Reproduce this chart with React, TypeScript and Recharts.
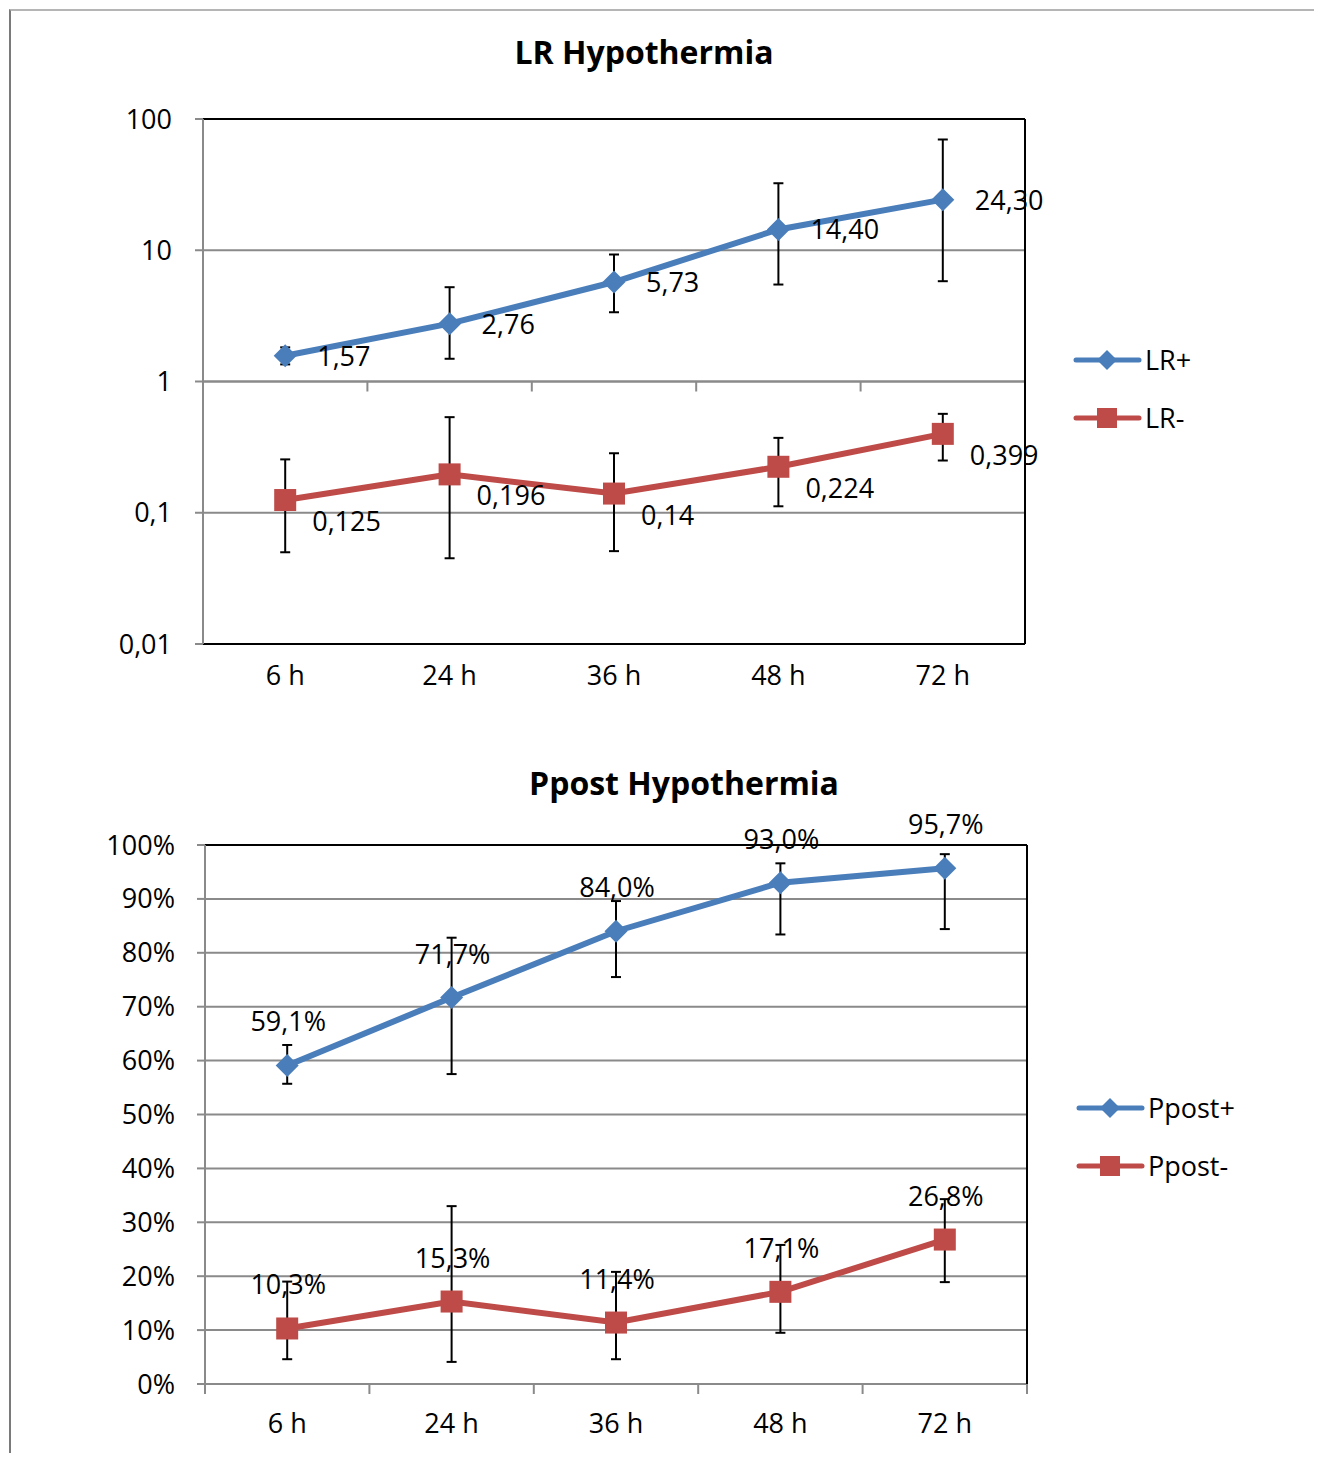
import React from 'react';
import { LineChart, Line, XAxis, YAxis, CartesianGrid, ErrorBar, ReferenceLine, Legend } from 'recharts';

// ---------- data ----------
const categories = ['6 h', '24 h', '36 h', '48 h', '72 h'];

const lrPlus = [1.57, 2.76, 5.73, 14.4, 24.3];
const lrPlusLow = [1.35, 1.49, 3.37, 5.48, 5.81];
const lrPlusHigh = [1.82, 5.23, 9.28, 32.4, 69.8];

const lrMinus = [0.125, 0.196, 0.14, 0.224, 0.399];
const lrMinusLow = [0.05, 0.045, 0.051, 0.112, 0.25];
const lrMinusHigh = [0.255, 0.535, 0.284, 0.372, 0.567];

const ppostPlus = [59.1, 71.7, 84.0, 93.0, 95.7];
const ppostPlusLow = [55.7, 57.5, 75.5, 83.4, 84.4];
const ppostPlusHigh = [62.9, 82.8, 89.6, 96.6, 98.3];

const ppostMinus = [10.3, 15.3, 11.4, 17.1, 26.8];
const ppostMinusLow = [4.6, 4.1, 4.6, 9.5, 18.9];
const ppostMinusHigh = [19.0, 33.0, 20.8, 25.8, 34.3];

const lrTicks = [0.01, 0.1, 1, 10, 100];
const pctTicks = [0, 10, 20, 30, 40, 50, 60, 70, 80, 90, 100];

// ---------- styles ----------
const BLUE = '#4A7EBB';
const RED = '#BE4B48';
const GRID = '#8A8A8A';
const FONT = "'Open Sans', 'Liberation Sans', sans-serif";
const FS = 27;

const xTicks = categories.map((_, i) => i + 0.5);

const lrData = categories.map((c, i) => ({
  x: i + 0.5,
  cat: c,
  lrPlus: lrPlus[i],
  lrPlusErr: [lrPlus[i] - lrPlusLow[i], lrPlusHigh[i] - lrPlus[i]],
  lrMinus: lrMinus[i],
  lrMinusErr: [lrMinus[i] - lrMinusLow[i], lrMinusHigh[i] - lrMinus[i]],
}));

const ppData = categories.map((c, i) => ({
  x: i + 0.5,
  cat: c,
  ppPlus: ppostPlus[i],
  ppPlusErr: [ppostPlus[i] - ppostPlusLow[i], ppostPlusHigh[i] - ppostPlus[i]],
  ppMinus: ppostMinus[i],
  ppMinusErr: [ppostMinus[i] - ppostMinusLow[i], ppostMinusHigh[i] - ppostMinus[i]],
}));

const fmtLRTick = (v: number) => String(v).replace('.', ',');
const fmtPctTick = (v: number) => `${v}%`;

// ---------- marks ----------
const diamondPath = (cx: number, cy: number, s: number) =>
  `M${cx},${cy - s} L${cx + s},${cy} L${cx},${cy + s} L${cx - s},${cy} Z`;

const diamondDot = (color: string) => (p: any) => {
  if (p.cx == null || p.cy == null) return <g key={p.index} />;
  return <path key={`d${p.index}`} d={diamondPath(p.cx, p.cy, 11.5)} fill={color} />;
};
const squareDot = (color: string) => (p: any) => {
  if (p.cx == null || p.cy == null) return <g key={p.index} />;
  return <rect key={`s${p.index}`} x={p.cx - 11} y={p.cy - 11} width={22} height={22} fill={color} />;
};

const makeLabel = (fmt: (v: number) => string, dx: number, dy: number, anchor: string) => (p: any) => {
  if (p.x == null || p.y == null) return <g key={p.index} />;
  return (
    <text
      key={`l${p.index}`}
      x={p.x + dx}
      y={p.y + dy}
      textAnchor={anchor}
      fontSize={FS}
      fontFamily={FONT}
      fill="#000"
    >
      {fmt(Number(p.value))}
    </text>
  );
};

const lrPlusLabel = makeLabel((v) => v.toFixed(2).replace('.', ','), 32, 10, 'start');
const lrMinusLabel = makeLabel((v) => String(v).replace('.', ','), 27, 31, 'start');
const pctLabel = makeLabel((v) => v.toFixed(1).replace('.', ',') + '%', 1, -34, 'middle');

const catTick = (dy: number) => (p: any) => (
  <text x={p.x} y={p.y + dy} textAnchor="middle" fontSize={FS} fontFamily={FONT} fill="#000">
    {categories[Math.floor(p.payload.value)]}
  </text>
);

// axis line with category boundary tick marks
const axisWithTicks = (props: any) => {
  const { x1, x2, y1 } = props;
  const n = categories.length;
  return (
    <g>
      <line x1={x1} x2={x2} y1={y1} y2={y1} stroke={GRID} strokeWidth={2} />
      {Array.from({ length: n + 1 }, (_, i) => {
        const x = x1 + ((x2 - x1) * i) / n;
        return <line key={i} x1={x} x2={x} y1={y1} y2={y1 + 10} stroke={GRID} strokeWidth={2} />;
      })}
    </g>
  );
};

type LegItem = { name: string; color: string; shape: 'diamond' | 'square' };

const LegendBox = ({ items }: { items: LegItem[] }) => (
  <div style={{ fontFamily: FONT, fontSize: FS, color: '#000' }}>
    {items.map((it) => (
      <div key={it.name} style={{ display: 'flex', alignItems: 'center', height: 58 }}>
        <svg width={72} height={30} style={{ display: 'block' }}>
          <line x1={3} x2={66} y1={15} y2={15} stroke={it.color} strokeWidth={5} strokeLinecap="round" />
          {it.shape === 'diamond' ? (
            <path d={diamondPath(34, 15, 10)} fill={it.color} />
          ) : (
            <rect x={24} y={5} width={20} height={20} fill={it.color} />
          )}
        </svg>
        <span style={{ lineHeight: '30px' }}>{it.name}</span>
      </div>
    ))}
  </div>
);

const tickStyle = { fontSize: FS, fill: '#000', fontFamily: FONT };

const Title = ({ text, cx, cy }: { text: string; cx: number; cy: number }) => (
  <div
    style={{
      position: 'absolute',
      left: cx - 300,
      top: cy - 20,
      width: 600,
      textAlign: 'center',
      fontFamily: FONT,
      fontWeight: 700,
      fontSize: 32,
      lineHeight: '40px',
      color: '#000',
    }}
  >
    {text}
  </div>
);

export default function App() {
  return (
    <div style={{ position: 'relative', width: 1306, height: 1445, background: '#fff', fontFamily: FONT }}>
      <div
        style={{
          position: 'absolute',
          left: 1,
          top: 1,
          right: -8,
          bottom: -8,
          borderTop: '2px solid #b5b5b5',
          borderLeft: '2px solid #7a7a7a',
        }}
      />

      <Title text="LR Hypothermia" cx={636} cy={44} />
      <div style={{ position: 'absolute', left: 0, top: 0 }}>
        <LineChart width={1300} height={720} data={lrData} margin={{ top: 111, right: 283, bottom: 44, left: 0 }}>
          <CartesianGrid horizontal vertical={false} stroke={GRID} strokeWidth={2} />
          <XAxis
            dataKey="x"
            type="number"
            domain={[0, 5]}
            ticks={xTicks}
            interval={0}
            height={40}
            axisLine={false}
            tickLine={false}
            tickSize={0}
            tickMargin={0}
            tick={catTick(41)}
          />
          <YAxis
            type="number"
            scale="log"
            domain={[0.01, 100]}
            ticks={lrTicks}
            allowDataOverflow
            interval={0}
            width={195}
            tickSize={8}
            tickMargin={23}
            tickFormatter={fmtLRTick}
            axisLine={{ stroke: GRID, strokeWidth: 2 }}
            tickLine={{ stroke: GRID, strokeWidth: 2 }}
            tick={tickStyle}
          />
          <ReferenceLine y={1} shape={axisWithTicks} />
          <ReferenceLine y={100} stroke="#000" strokeWidth={2} />
          <ReferenceLine y={0.01} stroke="#000" strokeWidth={2} />
          <ReferenceLine x={5} stroke="#000" strokeWidth={2} />
          <Line
            type="linear"
            dataKey="lrPlus"
            name="LR+"
            stroke={BLUE}
            strokeWidth={6}
            dot={diamondDot(BLUE)}
            activeDot={false}
            label={lrPlusLabel}
            isAnimationActive={false}
          >
            <ErrorBar dataKey="lrPlusErr" direction="y" width={5} strokeWidth={2} stroke="#000" />
          </Line>
          <Line
            type="linear"
            dataKey="lrMinus"
            name="LR-"
            stroke={RED}
            strokeWidth={6}
            dot={squareDot(RED)}
            activeDot={false}
            label={lrMinusLabel}
            isAnimationActive={false}
          >
            <ErrorBar dataKey="lrMinusErr" direction="y" width={5} strokeWidth={2} stroke="#000" />
          </Line>
          <Legend
            layout="vertical"
            align="center"
            verticalAlign="middle"
            wrapperStyle={{ left: 1065, top: 323, width: 220 }}
            content={() => (
              <LegendBox
                items={[
                  { name: 'LR+', color: BLUE, shape: 'diamond' },
                  { name: 'LR-', color: RED, shape: 'square' },
                ]}
              />
            )}
          />
        </LineChart>
      </div>

      <Title text="Ppost Hypothermia" cx={676} cy={775} />
      <div style={{ position: 'absolute', left: 0, top: 720 }}>
        <LineChart width={1300} height={720} data={ppData} margin={{ top: 117, right: 281, bottom: 24, left: 0 }}>
          <CartesianGrid horizontal vertical={false} stroke={GRID} strokeWidth={2} />
          <XAxis
            dataKey="x"
            type="number"
            domain={[0, 5]}
            ticks={xTicks}
            interval={0}
            height={40}
            axisLine={false}
            tickLine={false}
            tickSize={0}
            tickMargin={0}
            tick={catTick(49)}
          />
          <YAxis
            type="number"
            domain={[0, 100]}
            ticks={pctTicks}
            allowDataOverflow
            interval={0}
            width={197}
            tickSize={8}
            tickMargin={22}
            tickFormatter={fmtPctTick}
            axisLine={{ stroke: GRID, strokeWidth: 2 }}
            tickLine={{ stroke: GRID, strokeWidth: 2 }}
            tick={tickStyle}
          />
          <ReferenceLine y={0} shape={axisWithTicks} />
          <ReferenceLine y={100} stroke="#000" strokeWidth={2} />
          <ReferenceLine x={5} stroke="#000" strokeWidth={2} />
          <Line
            type="linear"
            dataKey="ppPlus"
            name="Ppost+"
            stroke={BLUE}
            strokeWidth={6}
            dot={diamondDot(BLUE)}
            activeDot={false}
            label={pctLabel}
            isAnimationActive={false}
          >
            <ErrorBar dataKey="ppPlusErr" direction="y" width={5} strokeWidth={2} stroke="#000" />
          </Line>
          <Line
            type="linear"
            dataKey="ppMinus"
            name="Ppost-"
            stroke={RED}
            strokeWidth={6}
            dot={squareDot(RED)}
            activeDot={false}
            label={pctLabel}
            isAnimationActive={false}
          >
            <ErrorBar dataKey="ppMinusErr" direction="y" width={5} strokeWidth={2} stroke="#000" />
          </Line>
          <Legend
            layout="vertical"
            align="center"
            verticalAlign="middle"
            wrapperStyle={{ left: 1068, top: 351, width: 220 }}
            content={() => (
              <LegendBox
                items={[
                  { name: 'Ppost+', color: BLUE, shape: 'diamond' },
                  { name: 'Ppost-', color: RED, shape: 'square' },
                ]}
              />
            )}
          />
        </LineChart>
      </div>
    </div>
  );
}
